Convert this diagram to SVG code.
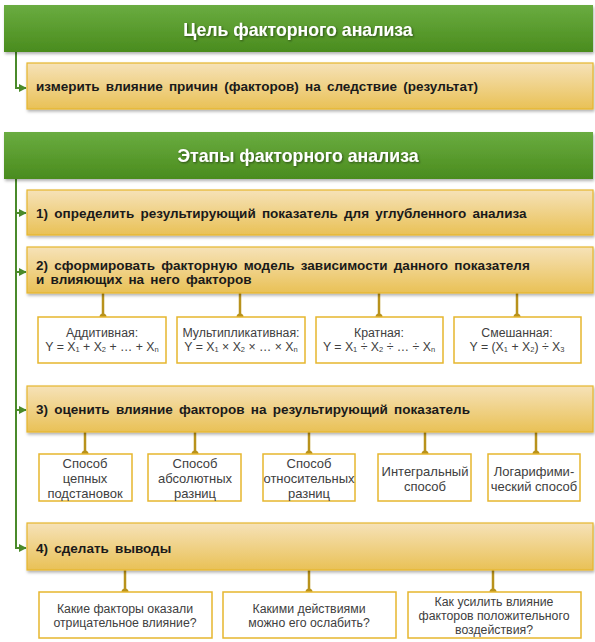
<svg xmlns="http://www.w3.org/2000/svg" width="595" height="642" viewBox="0 0 595 642">
<defs>
<linearGradient id="gGreen" x1="0" y1="0" x2="0" y2="1">
<stop offset="0" stop-color="#6aac40"/>
<stop offset="1" stop-color="#4a8c1e"/>
</linearGradient>
<linearGradient id="gGold" x1="0" y1="0" x2="0" y2="1">
<stop offset="0" stop-color="#f6e2b8"/>
<stop offset="1" stop-color="#e9c156"/>
</linearGradient>
<filter id="shadow" x="-5%" y="-20%" width="110%" height="150%">
<feDropShadow dx="1" dy="2" stdDeviation="1.5" flood-color="#000" flood-opacity="0.3"/>
</filter>
<filter id="tshadow" x="-5%" y="-30%" width="110%" height="160%">
<feDropShadow dx="1" dy="1" stdDeviation="0.8" flood-color="#000" flood-opacity="0.5"/>
</filter>
<marker id="arr" viewBox="0 0 10 10" refX="9" refY="5" markerWidth="4" markerHeight="4" orient="auto" markerUnits="strokeWidth">
<path d="M0,0 L10,5 L0,10 z" fill="#4a8a2a"/>
</marker>
</defs>
<style>
.hdr{fill:url(#gGreen);filter:url(#shadow);}
.htxt{font-family:"Liberation Sans",Arial,sans-serif;font-weight:bold;font-size:17.7px;fill:#fff;text-anchor:middle;filter:url(#tshadow);}
.step{fill:url(#gGold);stroke:#e6b62e;stroke-width:1.2;filter:url(#shadow);}
.stxt{font-family:"Liberation Sans",Arial,sans-serif;font-weight:bold;font-size:13.5px;fill:#1a1a1a;word-spacing:2.5px;}
.sub{fill:#fff;stroke:#e6b62e;stroke-width:1.5;}
.btxt{font-family:"Liberation Sans",Arial,sans-serif;font-size:12.3px;fill:#404040;text-anchor:middle;}
.mtxt{font-family:"Liberation Sans",Arial,sans-serif;font-size:13px;fill:#404040;text-anchor:middle;}
.gl{stroke:#4a8a2a;stroke-width:2;fill:none;}
.yl{stroke:#b8921c;stroke-width:2.5;fill:none;}
.dot{fill:#b8921c;}
.s{font-size:7.5px;}
</style>

<g id="connectors">
<path class="gl" d="M16,52 V88 H26" marker-end="url(#arr)"/>
<path class="gl" d="M16,179 V548 H26" marker-end="url(#arr)"/>
<path class="gl" d="M16,213 H26" marker-end="url(#arr)"/>
<path class="gl" d="M16,272 H26" marker-end="url(#arr)"/>
<path class="gl" d="M16,410 H26" marker-end="url(#arr)"/>
<path class="yl" d="M103,293 V317 M240,293 V317 M379,293 V317 M517,293 V317"/>
<path class="yl" d="M85,432 V454 M195,432 V454 M309,432 V454 M425,432 V454 M536,432 V454"/>
<path class="yl" d="M125,570 V592 M309,570 V592 M493,570 V592"/>
<circle class="dot" cx="103" cy="317" r="3.5"/><circle class="dot" cx="240" cy="317" r="3.5"/><circle class="dot" cx="379" cy="317" r="3.5"/><circle class="dot" cx="517" cy="317" r="3.5"/>
<circle class="dot" cx="85" cy="454" r="3.5"/><circle class="dot" cx="195" cy="454" r="3.5"/><circle class="dot" cx="309" cy="454" r="3.5"/><circle class="dot" cx="425" cy="454" r="3.5"/><circle class="dot" cx="536" cy="454" r="3.5"/>
<circle class="dot" cx="125" cy="592" r="3.5"/><circle class="dot" cx="309" cy="592" r="3.5"/><circle class="dot" cx="493" cy="592" r="3.5"/>
</g>

<g id="goal-header">
<rect class="hdr" x="4" y="5" width="589" height="47"/>
<text class="htxt" x="298" y="36">Цель факторного анализа</text>
</g>
<g id="goal">
<rect class="step" x="27" y="63" width="566" height="46"/>
<text class="stxt" x="36" y="91">измерить влияние причин (факторов) на следствие (результат)</text>
</g>

<g id="stages-header">
<rect class="hdr" x="4" y="132" width="589" height="47"/>
<text class="htxt" x="298" y="162">Этапы факторного анализа</text>
</g>

<g id="step1">
<rect class="step" x="27" y="190" width="566" height="45"/>
<text class="stxt" x="36" y="218">1) определить результирующий  показатель для углубленного анализа</text>
</g>
<g id="step2">
<rect class="step" x="27" y="247" width="566" height="46"/>
<text class="stxt" x="36" y="270">2) сформировать факторную модель зависимости данного показателя</text>
<text class="stxt" x="36" y="284">и влияющих на него факторов</text>
</g>

<g id="m-add">
<rect class="sub" x="38" y="317" width="128" height="46"/>
<text class="btxt" x="102" y="337">Аддитивная:</text>
<text class="btxt" x="102" y="351">Y = X<tspan class="s" dy="1">1</tspan><tspan dy="-1"> + X</tspan><tspan class="s" dy="1">2</tspan><tspan dy="-1"> + … + X</tspan><tspan class="s" dy="1">n</tspan></text>
</g>
<g id="m-mult">
<rect class="sub" x="177" y="317" width="128" height="46"/>
<text class="btxt" x="241" y="337">Мультипликативная:</text>
<text class="btxt" x="241" y="351">Y = X<tspan class="s" dy="1">1</tspan><tspan dy="-1"> × X</tspan><tspan class="s" dy="1">2</tspan><tspan dy="-1"> × … × X</tspan><tspan class="s" dy="1">n</tspan></text>
</g>
<g id="m-div">
<rect class="sub" x="316" y="317" width="127" height="46"/>
<text class="btxt" x="379" y="337">Кратная:</text>
<text class="btxt" x="379" y="351">Y = X<tspan class="s" dy="1">1</tspan><tspan dy="-1"> ÷ X</tspan><tspan class="s" dy="1">2</tspan><tspan dy="-1"> ÷ … ÷ X</tspan><tspan class="s" dy="1">n</tspan></text>
</g>
<g id="m-mix">
<rect class="sub" x="454" y="317" width="127" height="46"/>
<text class="btxt" x="517" y="337">Смешанная:</text>
<text class="btxt" x="517" y="351">Y = (X<tspan class="s" dy="1">1</tspan><tspan dy="-1"> + X</tspan><tspan class="s" dy="1">2</tspan><tspan dy="-1">) ÷ X</tspan><tspan class="s" dy="1">3</tspan></text>
</g>

<g id="step3">
<rect class="step" x="27" y="386" width="566" height="46"/>
<text class="stxt" x="36" y="414">3) оценить влияние факторов на результирующий  показатель</text>
</g>

<g id="meth1">
<rect class="sub" x="39" y="454" width="93" height="47"/>
<text class="mtxt" x="85" y="468">Способ</text>
<text class="mtxt" x="85" y="483">цепных</text>
<text class="mtxt" x="85" y="498">подстановок</text>
</g>
<g id="meth2">
<rect class="sub" x="148" y="454" width="93" height="47"/>
<text class="mtxt" x="195" y="468">Способ</text>
<text class="mtxt" x="195" y="483">абсолютных</text>
<text class="mtxt" x="195" y="498">разниц</text>
</g>
<g id="meth3">
<rect class="sub" x="263" y="454" width="92" height="47"/>
<text class="mtxt" x="309" y="468">Способ</text>
<text class="mtxt" x="309" y="483">относительных</text>
<text class="mtxt" x="309" y="498">разниц</text>
</g>
<g id="meth4">
<rect class="sub" x="378" y="454" width="93" height="47"/>
<text class="mtxt" x="425" y="476">Интегральный</text>
<text class="mtxt" x="425" y="491">способ</text>
</g>
<g id="meth5">
<rect class="sub" x="488" y="454" width="92" height="47"/>
<text class="mtxt" x="534" y="476">Логарифими-</text>
<text class="mtxt" x="534" y="491">ческий способ</text>
</g>

<g id="step4">
<rect class="step" x="27" y="523" width="566" height="47"/>
<text class="stxt" x="36" y="553">4) сделать выводы</text>
</g>

<g id="q1">
<rect class="sub" x="39" y="592" width="173" height="46"/>
<text class="btxt" x="125" y="613">Какие факторы оказали</text>
<text class="btxt" x="125" y="627">отрицательное влияние?</text>
</g>
<g id="q2">
<rect class="sub" x="223" y="592" width="173" height="46"/>
<text class="btxt" x="309" y="613">Какими действиями</text>
<text class="btxt" x="309" y="627">можно его ослабить?</text>
</g>
<g id="q3">
<rect class="sub" x="408" y="592" width="173" height="46"/>
<text class="btxt" x="494" y="606">Как усилить влияние</text>
<text class="btxt" x="494" y="620">факторов положительного</text>
<text class="btxt" x="494" y="634">воздействия?</text>
</g>
</svg>
